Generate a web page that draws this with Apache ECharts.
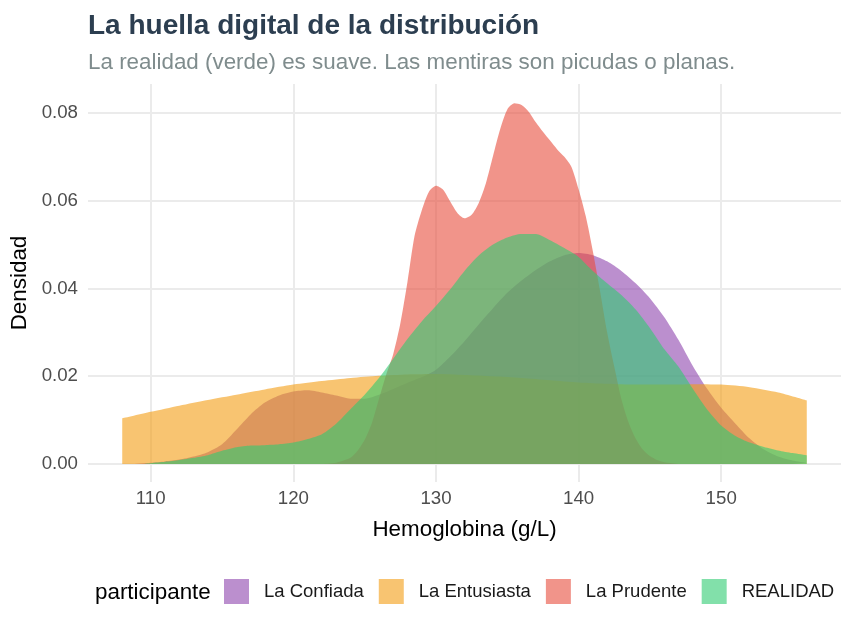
<!doctype html>
<html>
<head>
<meta charset="utf-8">
<title>La huella digital de la distribución</title>
<script src="https://cdn.jsdelivr.net/npm/echarts@6/dist/echarts.min.js"></script>
<style>
    html,body{
        margin: 0;
        width: 100%;
        height: 100%;
        background: #fff;
    }
    #main{
        width: 853px;
        height: 628px;
    }
</style>
</head>
<body>
<div id="main"></div>
<script>
    // densidades
    var confiadaX = [108.7,110,111,112,113,114,115,116,117,118,119,120,121,122,123,124,125,126,127,128,129,130,131,132,133,134,135,136,137,138,139,140,141,142,143,144,145,146,147,148,149,150,151,152,153,154,155,156];
    var confiadaY = [0,0.0003,0.0006,0.0010,0.0017,0.0027,0.0045,0.0078,0.0113,0.0140,0.0156,0.0165,0.0168,0.0163,0.0156,0.0149,0.0149,0.0158,0.0171,0.0185,0.0198,0.0215,0.0245,0.0280,0.0318,0.0355,0.0390,0.0418,0.0442,0.0462,0.0476,0.0481,0.0476,0.0462,0.0440,0.0412,0.0378,0.0335,0.0283,0.0224,0.0172,0.0128,0.0092,0.0058,0.0033,0.0017,0.0008,0.0003];

    var entusiastaX = [108,110,112,114,116,118,120,122,124,126,128,130,132,134,136,138,140,142,144,146,148,150,152,154,156];
    var entusiastaY = [0.0104,0.0119,0.0133,0.0146,0.0158,0.0170,0.0181,0.0189,0.0196,0.0201,0.0204,0.0205,0.0203,0.0200,0.0196,0.0191,0.0186,0.0183,0.0181,0.0181,0.0182,0.0181,0.0175,0.0163,0.0145];

    var prudenteX = [122,123,124,124.5,125,125.5,126,126.5,127,127.5,128,128.5,129,129.5,130,130.5,131,131.5,132,132.5,133,133.5,134,134.5,135,135.5,136,136.5,137,137.5,138,138.5,139,139.5,140,140.5,141,141.5,142,142.5,143,143.5,144,144.5,145,145.5,146,147];
    var prudenteY = [0,0.0003,0.0014,0.0030,0.0055,0.0093,0.0148,0.0203,0.0250,0.0320,0.0415,0.0520,0.0578,0.0620,0.0634,0.0625,0.0598,0.0572,0.0560,0.0568,0.0595,0.0640,0.0702,0.0763,0.0808,0.0822,0.0818,0.0803,0.0779,0.0757,0.0737,0.0717,0.0700,0.0677,0.0626,0.0565,0.0485,0.0395,0.0300,0.0222,0.0148,0.0095,0.0058,0.0033,0.0018,0.0009,0.0004,0];

    var realidadX = [109.4,110,111,112,113,114,115,116,117,118,119,120,121,122,123,124,125,126,127,128,129,130,131,132,133,134,135,136,137,138,139,140,141,142,143,144,145,146,147,148,149,150,151,152,153,154,155,156];
    var realidadY = [0,0.0002,0.0005,0.0009,0.0014,0.0020,0.0030,0.0038,0.0042,0.0043,0.0045,0.0049,0.0057,0.0068,0.0092,0.0125,0.0158,0.0196,0.0240,0.0285,0.0325,0.0360,0.0398,0.0440,0.0475,0.0500,0.0516,0.0524,0.0524,0.0510,0.0492,0.0472,0.0440,0.0412,0.0385,0.0352,0.0310,0.0262,0.0222,0.0172,0.0125,0.0088,0.0064,0.0049,0.0039,0.0031,0.0025,0.0020];

    var participantes = ['La Confiada','La Entusiasta','La Prudente','REALIDAD'];
    var xTicks = [110,120,130,140,150];
    var yTicks = [0,0.02,0.04,0.06,0.08];

    var fillColors = ['#8E44AD','#F39C12','#E74C3C','#2ECC71'];
    var keyColors = ['#BB8FCE','#F8C471','#F1948A','#82E0AA'];
    var font = 'Liberation Sans';

    function pairs(xs, ys){
        var out = [];
        for(var i = 0; i < xs.length; i++){
            out.push([xs[i], ys[i]]);
        }
        return out;
    }

    var seriesData = [
        pairs(confiadaX, confiadaY),
        pairs(entusiastaX, entusiastaY),
        pairs(prudenteX, prudenteY),
        pairs(realidadX, realidadY)
    ];

    var series = participantes.map(function(name, i){
        return {
            name: name,
            type: 'line',
            data: seriesData[i],
            smooth: 0.25,
            showSymbol: false,
            silent: true,
            itemStyle: { color: keyColors[i] },
            lineStyle: { width: 0, opacity: 0 },
            areaStyle: { color: fillColors[i], opacity: 0.6 }
        };
    });

    var option = {
        animation: false,
        backgroundColor: '#fff',
        textStyle: { fontFamily: font },
        title: [{
            text: 'La huella digital de la distribución',
            left: 88,
            top: 12,
            padding: 0,
            textStyle: { fontFamily: font, fontSize: 28, fontWeight: 'bold', color: '#2C3E50' }
        },{
            text: 'La realidad (verde) es suave. Las mentiras son picudas o planas.',
            left: 88,
            top: 52,
            padding: 0,
            textStyle: { fontFamily: font, fontSize: 22.4, fontWeight: 'normal', color: '#7F8C8D' }
        },{
            text: 'participante',
            left: 95,
            top: 582,
            padding: 0,
            textStyle: { fontFamily: font, fontSize: 22.4, fontWeight: 'normal', color: '#000' }
        }],
        legend: {
            data: participantes.map(function(name, i){
                return { name: name, itemStyle: { color: keyColors[i], borderWidth: 0 } };
            }),
            icon: 'rect',
            left: 224,
            top: 579,
            padding: 0,
            itemWidth: 25,
            itemHeight: 25,
            itemGap: 15,
            selectedMode: false,
            textStyle: { fontFamily: font, fontSize: 18.5, color: '#1a1a1a', padding: [0,0,0,10] }
        },
        grid: {
            left: 88,
            right: 12,
            top: 84,
            bottom: 146,
            containLabel: false
        },
        xAxis: {
            type: 'value',
            min: 105.6,
            max: 158.4,
            name: 'Hemoglobina (g/L)',
            nameLocation: 'middle',
            nameGap: 37,
            nameTextStyle: { fontFamily: font, fontSize: 22.4, color: '#000' },
            axisLine: { show: false },
            axisTick: { show: false, customValues: xTicks },
            axisLabel: {
                customValues: xTicks,
                margin: 7,
                fontFamily: font,
                fontSize: 18.7,
                color: '#4D4D4D'
            },
            splitLine: { show: true, lineStyle: { color: '#EBEBEB', width: 2 } }
        },
        yAxis: {
            type: 'value',
            min: -0.0041,
            max: 0.0866,
            name: 'Densidad',
            nameLocation: 'middle',
            nameGap: 52,
            nameTextStyle: { fontFamily: font, fontSize: 22.4, color: '#000' },
            axisLine: { show: false },
            axisTick: { show: false, customValues: yTicks },
            axisLabel: {
                customValues: yTicks,
                margin: 10,
                fontFamily: font,
                fontSize: 18.7,
                color: '#4D4D4D',
                formatter: function(v){ return v.toFixed(2); }
            },
            splitLine: { show: true, lineStyle: { color: '#EBEBEB', width: 2 } }
        },
        series: series
    };

    var chart = echarts.init(document.getElementById('main'));
    chart.setOption(option);
</script>
</body>
</html>
